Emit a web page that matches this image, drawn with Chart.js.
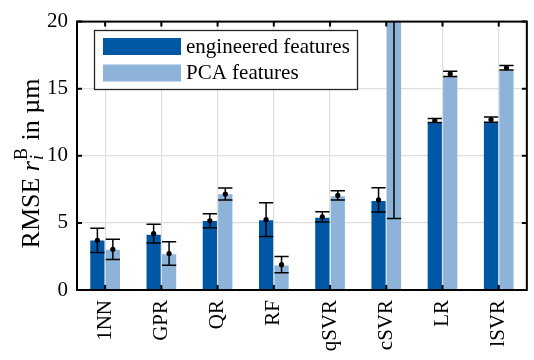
<!DOCTYPE html>
<html>
<head>
<meta charset="utf-8">
<script src="https://cdn.jsdelivr.net/npm/chart.js@4/dist/chart.umd.min.js"></script>
<style>
  html, body { margin: 0; padding: 0; background: #fff; }
  #wrap { width: 534px; height: 360px; }
</style>
</head>
<body>
<div id="wrap"><canvas id="c" width="534" height="360"></canvas></div>
<script>
// Regression models compared on two feature sets
const categories = ['1NN', 'GPR', 'QR', 'RF', 'qSVR', 'cSVR', 'LR', 'lSVR'];

// Bar heights, mean markers and standard deviations (µm)
const engineeredBar  = [3.69, 4.12, 5.14, 5.19, 5.38, 6.64, 12.48, 12.48];
const engineeredMean = [3.70, 4.20, 5.16, 5.24, 5.45, 6.71, 12.63, 12.70];
const engineeredStd  = [0.90, 0.70, 0.52, 1.26, 0.38, 0.90, 0.15, 0.20];

const pcaBar  = [3.00, 2.67, 7.13, 1.82, 6.98, 30.00, 15.88, 16.36];
const pcaMean = [3.03, 2.72, 7.15, 1.89, 7.05, 30.00, 16.10, 16.56];
const pcaStd  = [0.75, 0.87, 0.45, 0.60, 0.34, 24.67, 0.20, 0.17];

const seriesLabels = ['engineered features', 'PCA features'];
const yTicks = [0, 5, 10, 15, 20];

const DARK = '#0058A4';
const LIGHT = '#8DB3D8';
const SERIF = '"Liberation Serif", "Times New Roman", serif';
const FONT_SIZE = 21;

const errorSets = [
  { mean: engineeredMean, std: engineeredStd },
  { mean: pcaMean, std: pcaStd }
];

// Error bars with caps and a dot at the mean
const errorBarPlugin = {
  id: 'errorBars',
  afterDatasetsDraw(chart) {
    const { ctx, chartArea, scales } = chart;
    const y = scales.y;
    ctx.save();
    ctx.beginPath();
    ctx.rect(chartArea.left, chartArea.top, chartArea.right - chartArea.left, chartArea.bottom - chartArea.top);
    ctx.clip();
    chart.data.datasets.forEach((ds, di) => {
      const meta = chart.getDatasetMeta(di);
      const err = errorSets[di];
      meta.data.forEach((bar, i) => {
        const cx = bar.x;
        const half = bar.width / 2;
        const yHi = y.getPixelForValue(err.mean[i] + err.std[i]);
        const yLo = y.getPixelForValue(err.mean[i] - err.std[i]);
        const yM = y.getPixelForValue(err.mean[i]);
        ctx.strokeStyle = '#000';
        ctx.lineWidth = 1.5;
        ctx.beginPath();
        ctx.moveTo(cx, yHi); ctx.lineTo(cx, yLo);
        ctx.moveTo(cx - half, yHi); ctx.lineTo(cx + half, yHi);
        ctx.moveTo(cx - half, yLo); ctx.lineTo(cx + half, yLo);
        ctx.stroke();
        ctx.fillStyle = '#000';
        ctx.beginPath();
        ctx.arc(cx, yM, 2.6, 0, Math.PI * 2);
        ctx.fill();
      });
    });
    ctx.restore();
  }
};

// Boxed axes with inward tick marks on all four sides
const framePlugin = {
  id: 'frame',
  afterDraw(chart) {
    const { ctx, chartArea: a, scales } = chart;
    const t = 5;
    ctx.save();
    ctx.strokeStyle = '#000';
    ctx.lineWidth = 2;
    ctx.beginPath();
    scales.x.ticks.forEach((_, i) => {
      const px = scales.x.getPixelForTick(i);
      ctx.moveTo(px, a.bottom); ctx.lineTo(px, a.bottom - t);
      ctx.moveTo(px, a.top); ctx.lineTo(px, a.top + t);
    });
    yTicks.forEach(v => {
      const py = scales.y.getPixelForValue(v);
      ctx.moveTo(a.left, py); ctx.lineTo(a.left + t, py);
      ctx.moveTo(a.right, py); ctx.lineTo(a.right - t, py);
    });
    ctx.stroke();
    ctx.strokeRect(a.left, a.top, a.right - a.left, a.bottom - a.top);
    ctx.restore();
  }
};

// Legend box in the upper left of the plot
const legendPlugin = {
  id: 'boxLegend',
  afterDraw(chart) {
    const { ctx } = chart;
    const box = { x: 94.5, y: 30.5, w: 263, h: 59 };
    ctx.save();
    ctx.fillStyle = '#fff';
    ctx.fillRect(box.x, box.y, box.w, box.h);
    ctx.strokeStyle = '#262626';
    ctx.lineWidth = 1.3;
    ctx.strokeRect(box.x, box.y, box.w, box.h);
    ctx.font = FONT_SIZE + 'px ' + SERIF;
    ctx.textBaseline = 'middle';
    chart.data.datasets.forEach((ds, i) => {
      const sy = 38 + i * 26.5;
      ctx.fillStyle = ds.backgroundColor;
      ctx.fillRect(103, sy, 78, 17);
      ctx.fillStyle = '#000';
      ctx.fillText(ds.label, 186, sy + 9);
    });
    ctx.restore();
  }
};

// Rotated y-axis title with italic symbol, subscript and superscript
const yTitlePlugin = {
  id: 'yTitle',
  afterDraw(chart) {
    const { ctx } = chart;
    const size = 26;
    const small = 18;
    ctx.save();
    ctx.translate(39, 164);
    ctx.rotate(-Math.PI / 2);
    ctx.fillStyle = '#000';
    ctx.textBaseline = 'alphabetic';
    const fNorm = size + 'px ' + SERIF;
    const fIt = 'italic ' + size + 'px ' + SERIF;
    const fSub = 'italic ' + small + 'px ' + SERIF;
    const fSup = small + 'px ' + SERIF;
    const w = f => s => { ctx.font = f; return ctx.measureText(s).width; };
    const w1 = w(fNorm)('RMSE ');
    const w2 = w(fIt)('r');
    const wSub = w(fSub)('i');
    const wSup = w(fSup)('B');
    const wScript = Math.max(wSub, wSup) + 1;
    const w3 = w(fNorm)(' in µm');
    const total = w1 + w2 + wScript + w3;
    let x = -total / 2;
    ctx.font = fNorm; ctx.fillText('RMSE ', x, 0); x += w1;
    ctx.font = fIt; ctx.fillText('r', x, 0); x += w2 + 1;
    ctx.font = fSub; ctx.fillText('i', x, 4);
    ctx.font = fSup; ctx.fillText('B', x, -12);
    x += wScript;
    ctx.font = fNorm; ctx.fillText(' in µm', x, 0);
    ctx.restore();
  }
};

new Chart(document.getElementById('c'), {
  type: 'bar',
  data: {
    labels: categories,
    datasets: [
      { label: seriesLabels[0], data: engineeredBar, backgroundColor: DARK, borderWidth: 0,
        categoryPercentage: 0.55, barPercentage: 0.92 },
      { label: seriesLabels[1], data: pcaBar, backgroundColor: LIGHT, borderWidth: 0,
        categoryPercentage: 0.55, barPercentage: 0.92 }
    ]
  },
  options: {
    responsive: false,
    animation: false,
    layout: { padding: { top: 15, right: 1, left: 0, bottom: 0 } },
    plugins: { legend: { display: false }, tooltip: { enabled: false } },
    scales: {
      x: {
        grid: { offset: false, color: '#dedede', lineWidth: 1.2, drawTicks: false },
        border: { display: false },
        ticks: {
          color: '#000', font: { family: SERIF, size: FONT_SIZE },
          minRotation: 90, maxRotation: 90, padding: 10
        },
        afterFit(scale) { scale.height = 70; }
      },
      y: {
        min: 0, max: 20,
        grid: { color: '#dedede', lineWidth: 1.2, drawTicks: false },
        border: { display: false },
        afterBuildTicks(scale) { scale.ticks = yTicks.map(v => ({ value: v })); },
        ticks: {
          color: '#000', font: { family: SERIF, size: FONT_SIZE }, padding: 9
        },
        afterFit(scale) { scale.width = 77; }
      }
    }
  },
  plugins: [errorBarPlugin, framePlugin, legendPlugin, yTitlePlugin]
});
</script>
</body>
</html>
